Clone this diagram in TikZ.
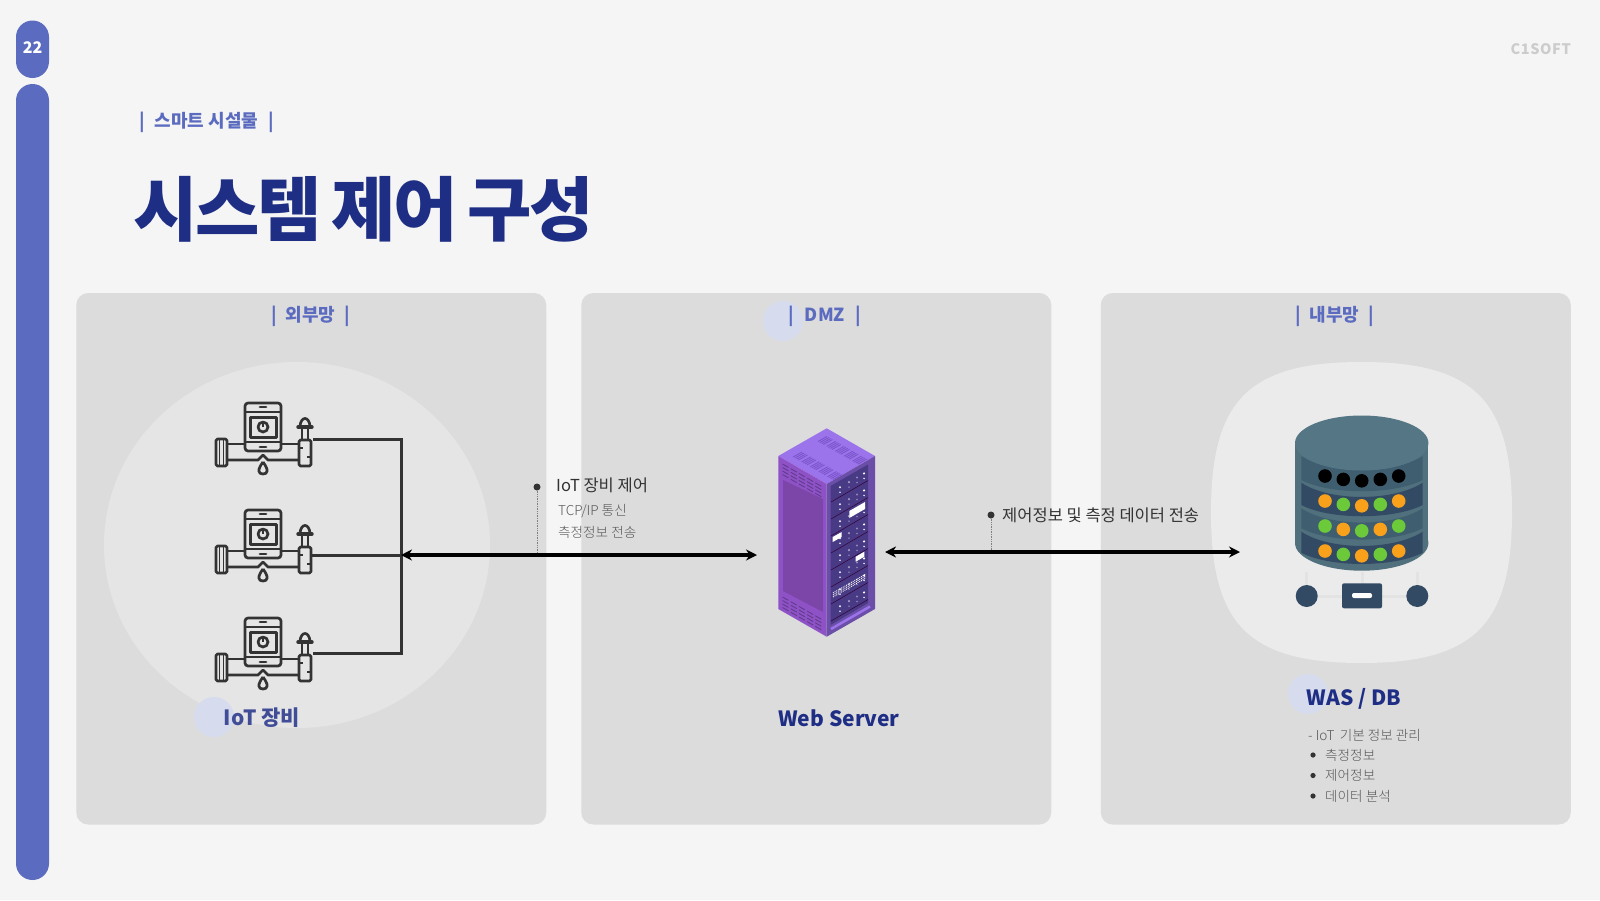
\documentclass[tikz,border=0pt]{standalone}
\usepackage{fontspec}
\setmainfont{Noto Sans CJK KR}
\newfontfamily\blackfont{Noto Sans CJK KR Black}[LetterSpace=-3.4,WordSpace=0.72]
\newfontfamily\lightfont{Noto Sans CJK KR Light}
\usetikzlibrary{arrows.meta}
\definecolor{pageback}{HTML}{F5F5F5}
\definecolor{barblue}{HTML}{5B6BBF}
\definecolor{titleblue}{HTML}{1F2E85}
\definecolor{panelgray}{HTML}{DCDCDC}
\definecolor{softblue}{HTML}{D6DCEE}
\definecolor{iconink}{HTML}{333333}
\definecolor{dbbody}{HTML}{50707E}
\definecolor{dbtop}{HTML}{557684}
\definecolor{dbband}{HTML}{3F5F70}
\definecolor{dbdark}{HTML}{324A63}
\definecolor{ledorange}{HTML}{F9A11B}
\definecolor{ledgreen}{HTML}{6CC93A}
\definecolor{racktop}{HTML}{9B73EB}
\definecolor{rackside}{HTML}{8F52C6}
\definecolor{rackpanel}{HTML}{7C46A8}
\definecolor{rackvent}{HTML}{5F3C8C}
\definecolor{rackslot}{HTML}{7B55CC}
\definecolor{rackframe}{HTML}{6B4EA8}
\definecolor{rackfront}{HTML}{483A85}
\begin{document}
\begin{tikzpicture}[x=1pt, y=-1pt,
  panel/.style = {fill=panelgray, rounded corners=12pt, minimum width=470pt, minimum height=531.5pt, inner sep=0pt},
  spot/.style = {fill=softblue, circle, minimum size=40pt, inner sep=0pt},
  head/.style = {text=barblue, font=\bfseries\fontsize{18}{20}\selectfont},
  big/.style = {text=titleblue, font=\bfseries\fontsize{21}{24}\selectfont},
  note/.style = {anchor=west, text=iconink, inner sep=0pt, font=\fontsize{16.5}{20}\selectfont},
  small/.style = {anchor=west, text=black!66, inner sep=0pt, font=\lightfont\fontsize{13.6}{16}\selectfont},
  pin/.style = {fill=iconink, circle, minimum size=7pt, inner sep=0pt},
  wire/.style = {draw=iconink, line width=3pt},
  link/.style = {draw=black, line width=3.2pt, {Stealth[length=11pt,width=11pt]}-{Stealth[length=11pt,width=11pt]}},
  leader/.style = {draw=black!50, densely dotted, line width=0.7pt},
  pics/meter/.style = {code={
    \begin{scope}[draw=iconink, line width=2.7pt, line join=round]
      \draw[rounded corners=3pt] (-18,-36) rectangle (18,12);
      \draw (-18,-27) -- (18,-27) (-18,3) -- (18,3);
      \draw[line cap=round] (-3,-32) -- (3,-32) (-3,8) -- (3,8);
      \draw[line width=3pt] (-13,-22) rectangle (13,-2);
      \draw (0,-12) circle (5pt);
      \draw[line width=1.8pt] (0,-16) -- (0,-12);
      \draw[rounded corners=1.5pt] (-47,0) rectangle (-36,27);
      \draw[line width=1.8pt] (-43.5,0) -- (-43.5,27) (-39.5,0) -- (-39.5,27);
      \draw (-36,5) -- (-18,5) (18,5) -- (36,5);
      \draw (-36,21) -- (-5,21) -- (0,16) -- (5,21) -- (36,21);
      \draw[rounded corners=1.5pt] (36,1) rectangle (48,27);
      \draw[line width=1.8pt] (36,9) -- (40,9) (44,18) -- (48,18);
      \draw (39,1) -- (39,-11) (45,1) -- (45,-11);
      \draw[line cap=round, line width=3.4pt] (35,-12) -- (49,-12);
      \draw (37,-13) .. controls (38,-23) and (46,-23) .. (47,-13);
      \draw (0,23) .. controls (-6,31) and (-5,35) .. (0,35) .. controls (5,35) and (6,31) .. (0,23);
    \end{scope}
  }}]

  \useasboundingbox (0,0) rectangle (1600,900);
  \fill[pageback] (0,0) rectangle (1600,900);

  \node[fill=barblue, rounded corners=16.5pt, minimum width=33pt, minimum height=57.5pt, inner sep=0pt] (badge) at (32.5,49.25) {};
  \node[text=white, font=\bfseries\fontsize{16}{16}\selectfont] (pageno) at (32.5,47.5) {22};
  \node[fill=barblue, rounded corners=16.5pt, minimum width=33pt, minimum height=796pt, inner sep=0pt] (sidebar) at (32.5,482) {};
  \node[text=black!20, anchor=east, inner sep=0pt, font=\bfseries\fontsize{14.5}{16}\selectfont\addfontfeature{LetterSpace=4}] (brand) at (1571,49) {C1SOFT};
  \node[head, anchor=west, inner sep=0pt] (subtitle) at (139,122) {|\hspace{10pt}스마트 시설물\hspace{10pt}|};
  \node[text=titleblue, anchor=west, inner sep=0pt, font=\blackfont\fontsize{70}{76}\selectfont] (title) at (133,209) {시스템 제어 구성};

  \node[panel] (outer) at (311.25,558.75) {};
  \node[panel] (dmz) at (816.25,558.75) {};
  \node[panel] (inner) at (1335.75,558.75) {};

  \node[head] (outerhead) at (310.5,316) {|\hspace{9pt}외부망\hspace{9pt}|};
  \node[spot] (dmzspot) at (783,321) {};
  \node[head] (dmzhead) at (825,316) {|\hspace{10.5pt}DMZ\hspace{10.5pt}|};
  \node[head] (innerhead) at (1334.5,316) {|\hspace{9pt}내부망\hspace{9pt}|};

  \fill[black!10] (297,545) ellipse (193pt and 183pt);
  \fill[black!8] (1361.5,362) .. controls (1476,362) and (1512,402) .. (1512,512.5)
    .. controls (1512,623) and (1476,663) .. (1361.5,663)
    .. controls (1247,663) and (1211,623) .. (1211,512.5)
    .. controls (1211,402) and (1247,362) .. (1361.5,362) -- cycle;

  \pic at (263,439) {meter};
  \pic at (263,546) {meter};
  \pic at (263,654) {meter};

  \coordinate (m1out) at (313,439);
  \coordinate (m2out) at (311,555);
  \coordinate (m3out) at (313,653);
  \coordinate (bustop) at (401,439);
  \coordinate (busmid) at (401,555);
  \coordinate (busend) at (401,653);
  \draw[wire] (m1out) -- (bustop) -- (busend) -- (m3out);
  \draw[wire] (m2out) -- (busmid);

  \coordinate (webleft) at (757,555);
  \coordinate (webright) at (885,552);
  \coordinate (dbleft) at (1240,552);

  \node[pin] (pinone) at (537,487) {};
  \coordinate (pinonefoot) at (537,555);
  \draw[leader] (pinone) -- (pinonefoot);
  \node[pin] (pintwo) at (991,515) {};
  \coordinate (pintwofoot) at (991,552);
  \draw[leader] (pintwo) -- (pintwofoot);

  \draw[link] (busmid) -- (webleft);
  \draw[link] (webright) -- (dbleft);

  \node[note] (ctrl) at (556,485.5) {IoT 장비 제어};
  \node[small] (ctrla) at (558,511.5) {TCP/IP 통신};
  \node[small] (ctrlb) at (558,532) {측정정보 전송};
  \node[note] (ctrlc) at (1002,515) {제어정보 및 측정 데이터 전송};

  \fill[racktop] (826.7,428.3) -- (875,456) -- (826.7,484) -- (778.3,456) -- cycle;
  \fill[rackside] (778.3,456) -- (826.7,484) -- (826.7,636.7) -- (778.3,609) -- cycle;
  \fill[rackpanel] (783,480) -- (823,499) -- (823,612) -- (783,591) -- cycle;
  \fill[rackframe] (826.7,484) -- (875,456) -- (875,609) -- (826.7,636.7) -- cycle;
  \fill[rackfront] (830.5,486) -- (868,464.5) -- (868,603) -- (830.5,625) -- cycle;
  \draw[line width=2.5pt, draw=racktop] (831,629) -- (870,606.5);
  \foreach \i in {0,...,4} {
    \foreach \j in {0,...,3} {
      \draw[line width=0.9pt, draw=rackvent] ({782.5+\i*8.2},{464+\i*4.7+\j*3.5}) -- ++(6,3.4);
      \draw[line width=0.9pt, draw=rackvent] ({782.5+\i*8.2},{597+\i*4.7+\j*3.5}) -- ++(6,3.4);
      \draw[line width=0.9pt, draw=rackslot] ({793+\i*8.6+\j*1.8},{457+\i*4.9+\j*1}) -- ++(9,-5);
      \draw[line width=0.9pt, draw=rackslot] ({818+\i*8.6+\j*1.8},{441.5+\i*4.9+\j*1}) -- ++(9,-5);
    }
  }
  \foreach \r in {0,...,7} {
    \draw[line width=0.5pt, draw=black!60!violet] (831,{502+\r*17}) -- (868,{480.5+\r*17});
    \foreach \c/\o in {840/0.9,849/0.5,857/0.4,864/1} {
      \fill[white, opacity=\o] (\c,{493+\r*17-0.575*(\c-830)}) circle (1.2pt);
      \fill[white, opacity=\o] (\c,{498+\r*17-0.575*(\c-830)}) circle (0.8pt);
    }
  }
  \fill[white] (849.3,511) -- (865,502) -- (865,509) -- (849.3,518) -- cycle;
  \fill[white] (832.7,537) -- (841.7,532) -- (841.7,537) -- (832.7,542) -- cycle;
  \fill[white] (855.7,556.7) -- (864.3,551.7) -- (864.3,556.7) -- (855.7,561.7) -- cycle;
  \foreach \k in {0,2,4} \draw[white, line width=0.9pt, densely dotted] (833,{597-\k}) -- (866,{578-\k});

  \draw[draw=black!11, line width=3pt] (1306.7,572) -- (1306.7,596) -- (1417.3,596) -- (1417.3,572) (1362,572) -- (1362,590);
  \fill[dbbody] (1295,443) rectangle (1428.3,543);
  \fill[dbbody] (1361.7,543) ellipse (66.7pt and 27.7pt);
  \foreach \t/\b/\c in {456/480/dbband,482.7/505/dbdark,508.3/528.3/dbband,531.7/552.7/dbdark} {
    \fill[\c] (1301.3,\t) .. controls (1330,\t+19) and (1393,\t+19) .. (1422.7,\t) -- (1422.7,\b)
      .. controls (1393,\b+15) and (1330,\b+15) .. (1301.3,\b) -- cycle;
  }
  \fill[dbtop] (1361.7,443) ellipse (66.7pt and 27.5pt);
  \foreach \y/\ca/\cb in {476/black/black,501/ledorange/ledgreen,526/ledgreen/ledorange,551/ledorange/ledgreen} {
    \fill[\ca] (1325,\y) circle (6.8pt);
    \fill[\cb] (1343.3,\y+3.4) circle (6.8pt);
    \fill[\ca] (1361.7,\y+4.8) circle (6.8pt);
    \fill[\cb] (1380.3,\y+3.4) circle (6.8pt);
    \fill[\ca] (1398.7,\y) circle (6.8pt);
  }
  \fill[dbdark] (1306.7,596) circle (11pt);
  \fill[dbdark] (1417.3,596) circle (11pt);
  \fill[dbdark, rounded corners=2pt] (1342,583.3) rectangle (1382,608.3);
  \fill[white, rounded corners=2pt] (1352,593) rectangle (1372,598);

  \node[spot] (iotspot) at (214,717) {};
  \node[big, text=titleblue!85!white] (iot) at (262,718) {IoT 장비};
  \node[big] (web) at (839,718) {Web Server};
  \node[spot] (dbspot) at (1308,694) {};
  \node[big] (db) at (1354,699) {WAS / DB};

  \node[small] (listhead) at (1308,735) {- IoT\, 기본 정보 관리};
  \node[small] (lista) at (1325,755) {측정정보};
  \node[small] (listb) at (1325,775.5) {제어정보};
  \node[small] (listc) at (1325,796) {데이터 분석};
  \foreach \n in {lista,listb,listc} \fill[iconink] (1313,0 |- \n) circle (2.6pt);

\end{tikzpicture}
\end{document}
